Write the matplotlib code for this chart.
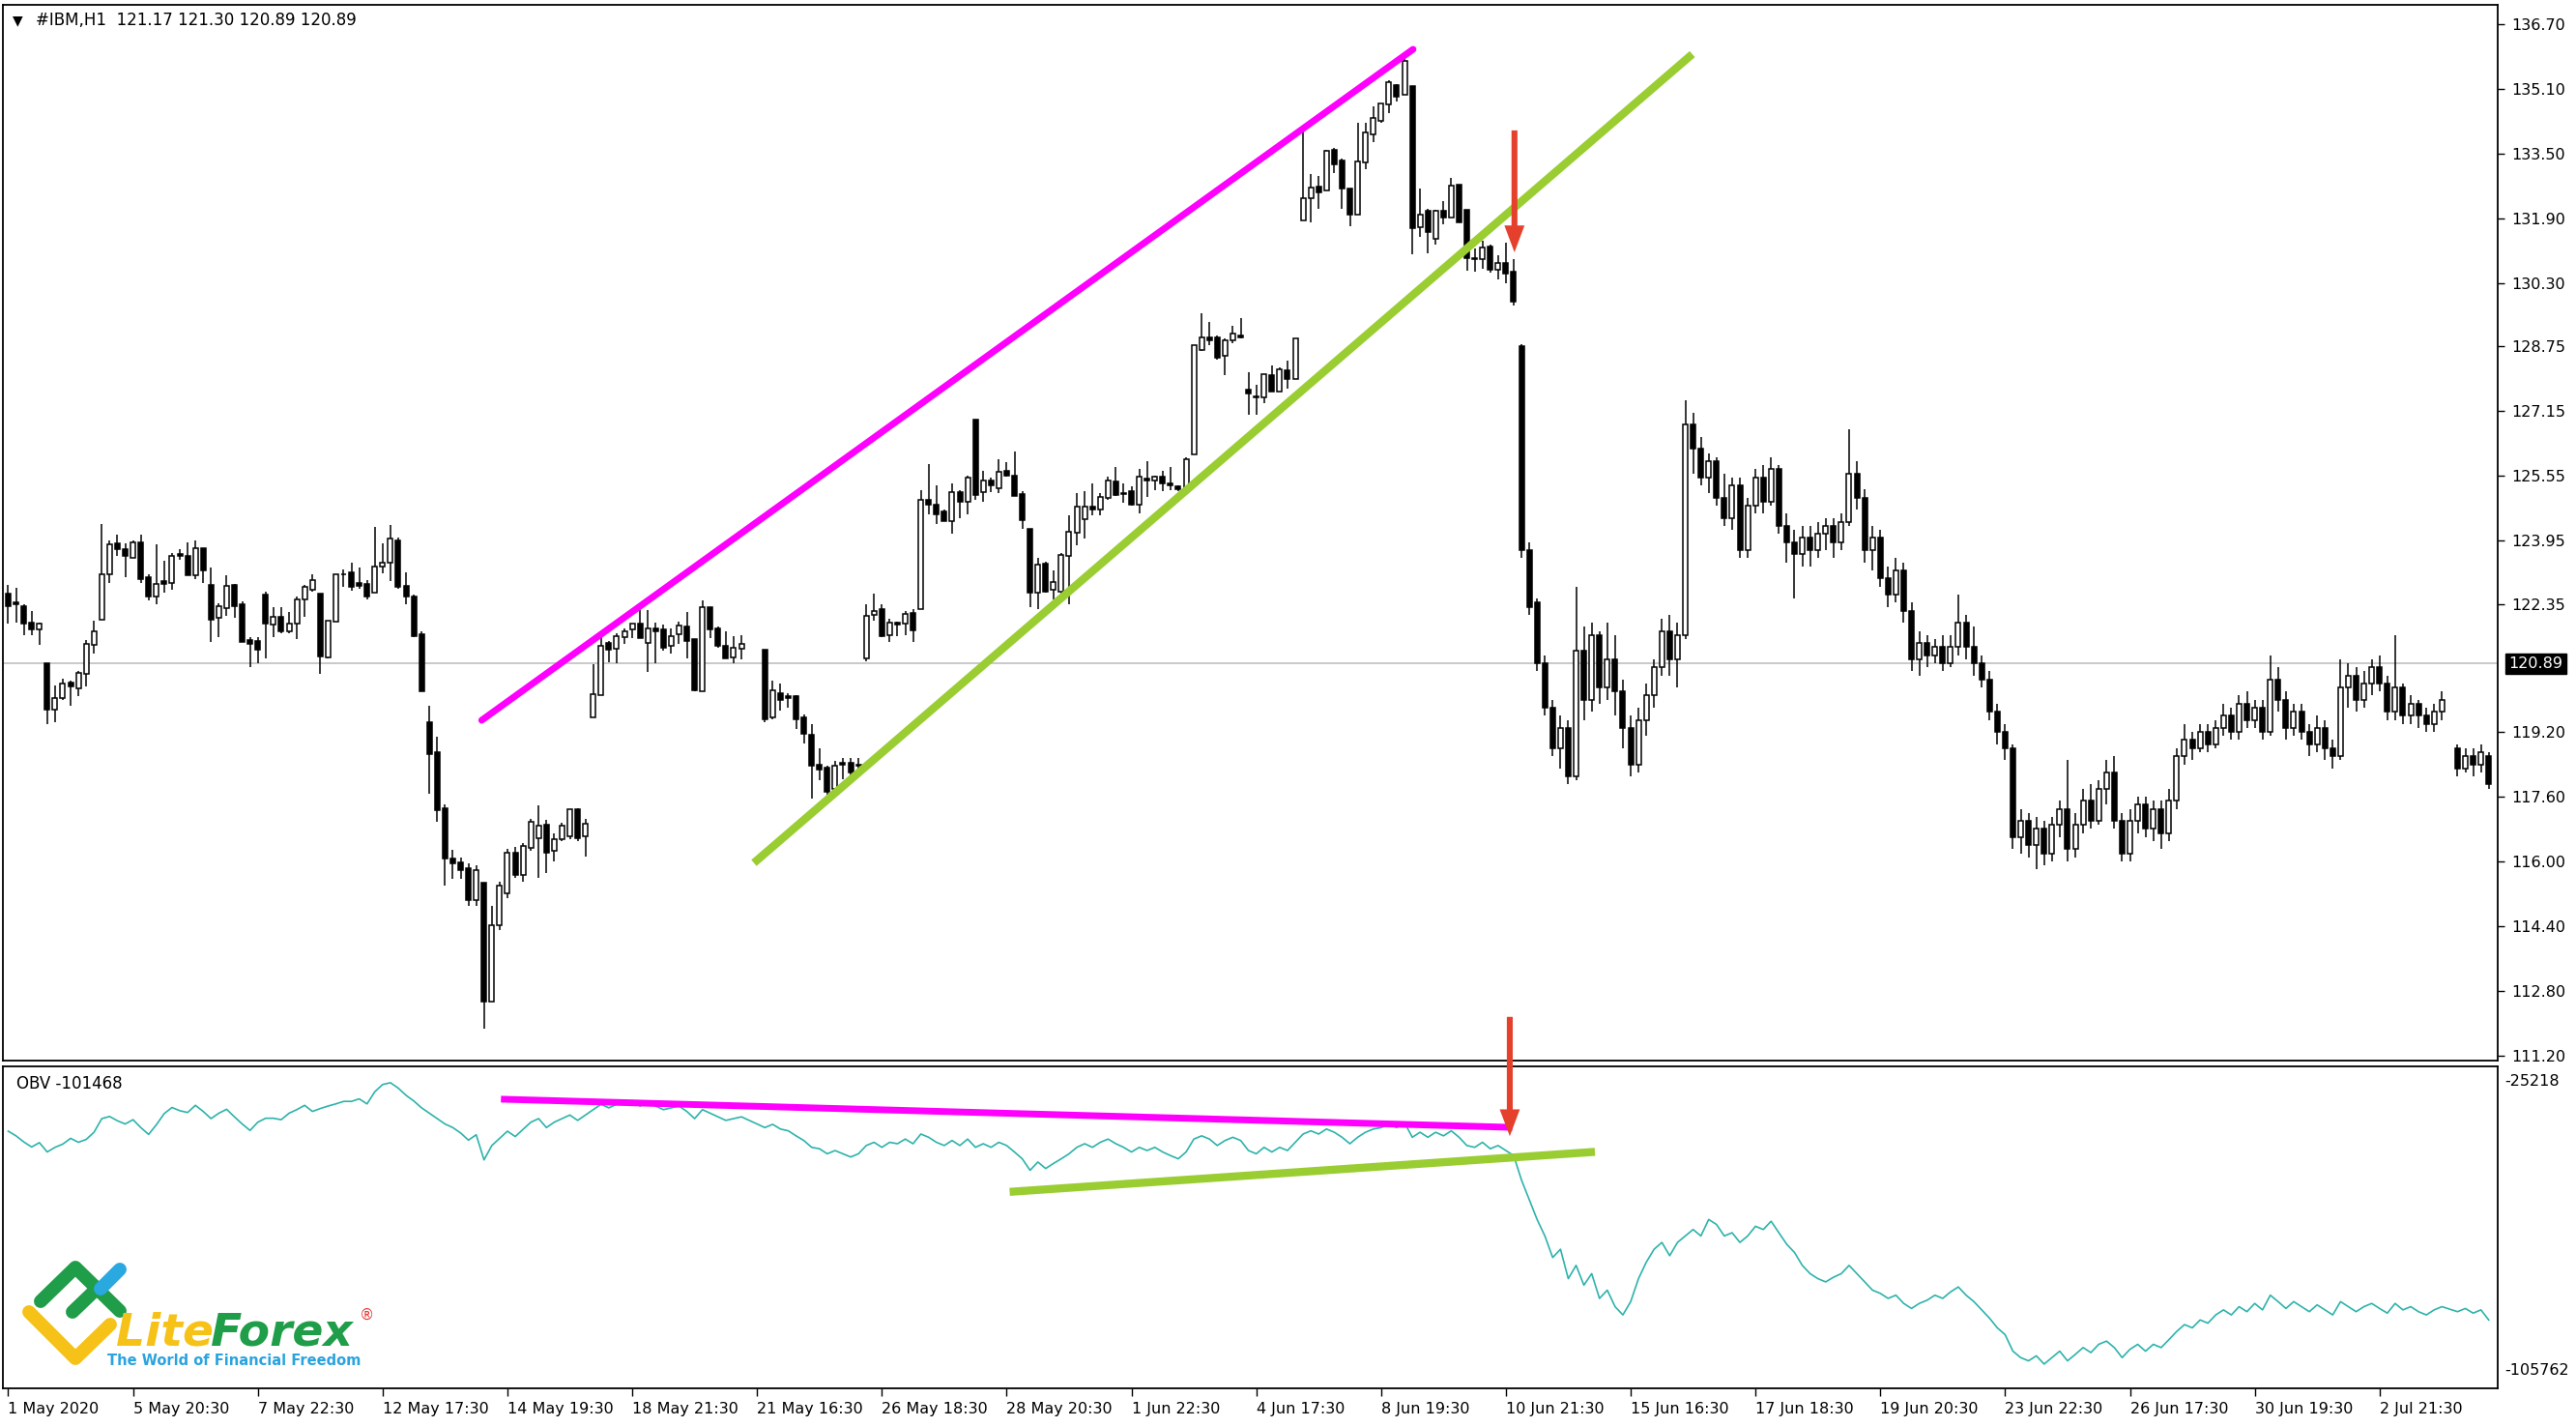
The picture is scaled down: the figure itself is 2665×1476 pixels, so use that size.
import numpy as np
import matplotlib
matplotlib.use('Agg')
import matplotlib.pyplot as plt
from matplotlib.lines import Line2D
from matplotlib.transforms import blended_transform_factory

nan = np.nan

# ---- IBM H1 candles, bars 0..318 ----
opens = [
    122.63, 122.40, 122.31, 121.91, 121.75, 120.89, 119.76, 120.05, 120.42, 120.29,
    120.63, 121.35, 121.97, 123.09, 123.86, 123.73, 123.52, 123.89, 123.03, 122.55,
    122.93, 122.89, 123.60, 123.55, 123.07, 123.74, 122.83, 122.03, 122.27, 122.84,
    122.35, 121.47, 121.45, 122.59, 121.86, 122.04, 121.70, 121.87, 122.48, 122.73,
    122.63, 121.05, 121.94, 123.10, 123.15, 122.88, 122.86, 122.65, 123.29, 123.38,
    123.93, 122.81, 122.54, 121.62, 119.45, 118.70, 117.32, 116.06, 115.98, 115.84,
    115.03, 115.47, 112.54, 114.42, 115.20, 116.22, 115.67, 116.34, 116.58, 116.90,
    116.26, 116.54, 116.62, 117.28, 116.62, 119.57, 120.11, 121.41, 121.25, 121.55,
    121.73, 121.87, 121.41, 121.77, 121.74, 121.33, 121.61, 121.81, 121.49, 120.21,
    122.30, 121.77, 121.34, 121.05, 121.27, nan, nan, 121.23, 119.56, 120.16,
    120.08, 120.09, 119.56, 119.12, 118.38, 118.32, 117.80, 118.43, 118.43, 118.36,
    121.03, 122.09, 122.23, 121.59, 121.91, 121.87, 122.15, 122.23, 124.94, 124.82,
    124.66, 124.42, 125.14, 124.90, 126.93, 125.14, 125.42, 125.23, 125.65, 125.55,
    125.09, 124.23, 122.64, 123.37, 122.72, 122.68, 123.55, 124.13, 124.47, 124.77,
    124.71, 124.99, 125.39, 125.11, 125.15, 124.83, 125.47, 125.43, 125.52, 125.35,
    125.27, 125.25, 126.07, 128.66, 128.97, 128.95, 128.50, 128.90, 129.02, 127.66,
    127.51, 127.47, 128.02, 127.62, 128.14, 127.94, 131.85, 132.40, 132.70, 132.59,
    133.60, 133.34, 132.64, 132.01, 133.28, 133.99, 134.32, 134.72, 135.20, 134.96,
    135.17, 131.69, 132.09, 131.41, 132.09, 131.93, 132.75, 132.13, 130.93, 130.89,
    131.21, 130.63, 130.80, 130.60, 128.75, 123.70, 122.40, 120.90, 119.80, 118.80,
    119.30, 118.10, 121.20, 120.00, 121.60, 120.30, 121.00, 120.20, 119.30, 118.40,
    119.50, 120.10, 120.80, 121.70, 121.00, 121.60, 126.80, 126.20, 125.50, 125.90,
    125.00, 124.50, 125.30, 123.70, 124.80, 125.50, 124.90, 125.70, 124.30, 123.90,
    123.60, 124.00, 123.70, 124.10, 124.30, 123.90, 124.40, 125.60, 125.00, 123.70,
    124.00, 123.00, 122.60, 123.20, 122.20, 121.00, 121.40, 121.10, 121.30, 120.90,
    121.30, 121.90, 121.30, 120.90, 120.50, 119.70, 119.20, 118.80, 116.60, 117.00,
    116.40, 116.80, 116.20, 116.90, 117.30, 116.30, 116.90, 117.50, 117.00, 117.80,
    118.20, 117.00, 116.20, 117.00, 117.40, 116.80, 117.30, 116.70, 117.50, 118.60,
    119.00, 118.80, 119.20, 118.90, 119.30, 119.60, 119.20, 119.90, 119.50, 119.80,
    119.20, 120.50, 120.00, 119.30, 119.70, 119.20, 118.90, 119.30, 118.80, 118.60,
    120.30, 120.60, 120.00, 120.40, 120.80, 120.40, 119.70, 120.30, 119.60, 119.90,
    119.60, 119.40, 119.70, nan, 118.80, 118.30, 118.60, 118.40, 118.60,
]
highs = [
    122.83, 122.77, 122.35, 122.19, 121.91, 120.89, 120.36, 120.52, 120.48, 120.71,
    121.47, 121.95, 124.34, 123.94, 124.09, 123.86, 123.94, 124.09, 123.11, 123.85,
    123.43, 123.62, 123.72, 123.90, 123.93, 123.74, 123.27, 122.39, 123.07, 122.87,
    122.43, 121.55, 121.54, 122.67, 122.29, 122.28, 122.17, 122.54, 122.84, 123.11,
    122.63, 121.96, 123.11, 123.23, 123.40, 123.26, 122.96, 124.27, 123.87, 124.31,
    124.01, 123.15, 122.59, 121.69, 119.84, 119.08, 117.41, 116.29, 116.10, 115.95,
    115.91, 115.47, 114.90, 115.50, 116.30, 116.35, 116.45, 117.05, 117.38, 117.02,
    116.70, 116.95, 117.30, 117.32, 117.06, 120.87, 121.57, 121.45, 121.65, 121.77,
    121.89, 122.28, 122.22, 121.90, 121.85, 121.77, 121.93, 122.17, 121.49, 122.45,
    122.30, 121.82, 121.69, 121.57, 121.59, nan, nan, 121.23, 120.48, 120.40,
    120.16, 120.12, 119.64, 119.40, 118.80, 118.36, 118.48, 118.56, 118.56, 118.56,
    122.35, 122.63, 122.37, 121.99, 121.93, 122.19, 122.23, 125.18, 125.82, 125.30,
    124.70, 125.34, 125.18, 125.54, 126.93, 125.66, 125.50, 125.95, 125.87, 126.15,
    125.17, 124.23, 123.51, 123.42, 123.20, 123.63, 124.55, 125.11, 125.17, 125.35,
    125.11, 125.51, 125.75, 125.35, 125.27, 125.71, 125.89, 125.55, 125.65, 125.75,
    125.30, 125.99, 128.78, 129.57, 129.34, 129.02, 128.94, 129.26, 129.43, 128.10,
    127.78, 128.06, 128.26, 128.22, 128.38, 128.94, 134.12, 133.00, 132.96, 133.60,
    133.64, 133.39, 132.64, 134.26, 134.26, 134.68, 134.76, 135.32, 135.24, 135.87,
    135.17, 132.64, 132.14, 132.13, 132.33, 132.90, 132.75, 132.13, 131.17, 131.35,
    131.25, 131.00, 131.30, 130.90, 128.80, 123.90, 122.50, 121.10, 120.00, 119.60,
    119.50, 122.80, 121.80, 121.90, 121.70, 121.90, 121.60, 120.50, 119.60, 119.80,
    120.40, 121.00, 122.00, 122.10, 121.90, 127.40, 127.10, 126.50, 126.10, 126.00,
    125.60, 125.50, 125.50, 125.00, 125.70, 125.80, 126.00, 125.80, 124.60, 124.20,
    124.30, 124.30, 124.40, 124.50, 124.50, 124.60, 126.70, 125.90, 125.20, 124.30,
    124.20, 123.30, 123.50, 123.40, 122.40, 121.70, 121.60, 121.50, 121.60, 121.60,
    122.60, 122.10, 121.80, 121.10, 120.70, 119.90, 119.40, 118.90, 117.30, 117.20,
    117.10, 117.00, 117.10, 117.50, 118.50, 117.20, 117.80, 117.90, 118.00, 118.50,
    118.60, 117.20, 117.30, 117.60, 117.60, 117.50, 117.50, 117.80, 118.80, 119.40,
    119.20, 119.40, 119.40, 119.50, 119.90, 119.80, 120.10, 120.20, 120.00, 120.00,
    121.10, 120.80, 120.20, 119.90, 119.90, 119.40, 119.60, 119.50, 119.00, 121.00,
    120.90, 120.80, 120.70, 121.00, 121.10, 120.60, 121.60, 120.40, 120.10, 120.00,
    119.80, 119.90, 120.20, nan, 118.90, 118.80, 118.80, 118.90, 118.70,
]
lows = [
    121.87, 121.91, 121.59, 121.59, 121.35, 119.40, 119.44, 120.00, 119.84, 120.08,
    120.32, 121.15, 121.97, 122.89, 123.56, 123.03, 123.52, 122.89, 122.45, 122.35,
    122.65, 122.71, 123.47, 123.08, 122.99, 122.89, 121.43, 121.55, 122.07, 122.03,
    121.43, 120.81, 120.91, 121.03, 121.54, 121.64, 121.64, 121.49, 122.04, 122.67,
    120.63, 121.02, 121.94, 122.80, 122.70, 122.75, 122.49, 122.65, 123.13, 122.94,
    122.75, 122.36, 121.54, 120.21, 117.66, 116.99, 115.41, 115.56, 115.56, 114.89,
    114.89, 111.86, 112.54, 114.30, 115.10, 115.60, 115.50, 116.25, 115.59, 115.71,
    115.99, 116.50, 116.55, 116.50, 116.11, 119.57, 120.11, 120.93, 120.91, 121.37,
    121.53, 121.53, 120.69, 120.91, 121.21, 121.13, 121.37, 121.03, 120.20, 120.21,
    121.53, 121.29, 121.03, 120.91, 120.99, nan, nan, 119.44, 119.52, 119.72,
    119.80, 119.28, 118.92, 117.56, 118.00, 117.64, 117.72, 118.04, 118.12, 118.20,
    120.95, 121.95, 121.54, 121.43, 121.57, 121.59, 121.43, 122.23, 124.58, 124.34,
    124.41, 124.10, 124.50, 124.58, 124.94, 124.90, 125.14, 125.12, 125.51, 125.04,
    124.22, 122.28, 122.24, 122.64, 122.48, 122.56, 122.36, 123.83, 123.98, 124.55,
    124.55, 124.95, 125.03, 124.87, 124.81, 124.61, 125.01, 125.19, 125.15, 125.19,
    125.17, 125.25, 126.07, 128.62, 128.78, 128.42, 128.04, 128.82, 128.94, 127.06,
    127.06, 127.34, 127.62, 127.62, 127.70, 127.94, 131.85, 131.81, 132.14, 132.59,
    133.02, 132.14, 131.71, 132.01, 133.12, 133.80, 134.26, 134.52, 134.80, 134.96,
    131.01, 131.45, 131.05, 131.25, 131.77, 131.93, 131.81, 130.61, 130.60, 130.65,
    130.57, 130.40, 130.30, 129.75, 123.50, 122.10, 120.70, 119.60, 118.60, 118.30,
    117.90, 118.00, 119.50, 119.70, 119.90, 120.00, 119.60, 118.80, 118.10, 118.20,
    119.10, 119.80, 120.60, 120.60, 120.30, 121.50, 125.60, 125.30, 125.10, 124.80,
    124.30, 124.20, 123.50, 123.50, 124.60, 124.60, 124.80, 124.10, 123.40, 122.50,
    123.30, 123.30, 123.50, 123.70, 123.50, 123.70, 124.30, 124.70, 123.40, 123.20,
    122.80, 122.30, 122.40, 121.90, 120.70, 120.60, 120.80, 120.90, 120.70, 120.80,
    121.10, 121.00, 120.60, 120.30, 119.50, 118.90, 118.50, 116.30, 116.20, 116.10,
    115.80, 115.90, 116.00, 116.60, 116.00, 116.10, 116.70, 116.80, 116.90, 117.40,
    116.80, 116.00, 116.00, 116.70, 116.60, 116.50, 116.30, 116.50, 117.30, 118.40,
    118.50, 118.70, 118.70, 118.80, 119.10, 119.00, 119.00, 119.30, 119.30, 119.00,
    119.10, 119.70, 119.00, 119.10, 119.00, 118.60, 118.70, 118.50, 118.30, 118.50,
    119.80, 119.70, 119.80, 120.10, 120.20, 119.50, 119.50, 119.40, 119.40, 119.30,
    119.20, 119.20, 119.50, nan, 118.10, 118.20, 118.10, 118.20, 117.80,
]
closes = [
    122.31, 122.36, 121.89, 121.75, 121.87, 119.76, 120.05, 120.40, 120.32, 120.66,
    121.38, 121.70, 123.11, 123.85, 123.72, 123.55, 123.90, 122.99, 122.55, 122.87,
    122.87, 123.56, 123.55, 123.08, 123.74, 123.19, 121.97, 122.31, 122.81, 122.31,
    121.43, 121.39, 121.24, 121.89, 122.04, 121.69, 121.87, 122.48, 122.78, 122.96,
    121.07, 121.96, 123.09, 123.09, 122.80, 122.81, 122.54, 123.30, 123.38, 123.99,
    122.78, 122.56, 121.58, 120.21, 118.66, 117.27, 116.08, 115.95, 115.79, 115.03,
    115.79, 112.54, 114.42, 115.41, 116.22, 115.67, 116.38, 116.98, 116.88, 116.22,
    116.54, 116.88, 117.28, 116.56, 116.93, 120.13, 121.33, 121.23, 121.57, 121.69,
    121.87, 121.53, 121.77, 121.69, 121.29, 121.58, 121.83, 121.45, 120.23, 122.30,
    121.73, 121.33, 121.03, 121.29, 121.39, nan, nan, 119.52, 120.24, 120.00,
    120.04, 119.52, 119.16, 118.36, 118.28, 117.72, 118.36, 118.38, 118.20, 118.40,
    122.07, 122.19, 121.57, 121.91, 121.85, 122.13, 121.71, 124.94, 124.82, 124.58,
    124.41, 125.14, 124.90, 125.50, 125.06, 125.42, 125.30, 125.63, 125.55, 125.04,
    124.43, 122.64, 123.35, 122.68, 122.92, 123.59, 124.15, 124.77, 124.77, 124.71,
    125.01, 125.41, 125.07, 125.08, 124.83, 125.51, 125.43, 125.52, 125.35, 125.31,
    125.20, 125.95, 128.78, 128.95, 128.90, 128.46, 128.90, 129.06, 128.95, 127.58,
    127.47, 128.06, 127.62, 128.18, 127.94, 128.94, 132.40, 132.68, 132.54, 133.58,
    133.24, 132.64, 132.01, 133.32, 134.03, 134.40, 134.76, 135.28, 134.92, 135.80,
    131.66, 132.01, 131.57, 132.09, 131.93, 132.72, 131.81, 130.93, 130.89, 131.19,
    130.63, 130.80, 130.55, 129.85, 123.70, 122.30, 120.90, 119.80, 118.80, 119.30,
    118.10, 121.20, 120.00, 121.60, 120.30, 121.00, 120.20, 119.30, 118.40, 119.50,
    120.10, 120.80, 121.70, 121.00, 121.60, 126.80, 126.20, 125.50, 125.90, 125.00,
    124.50, 125.30, 123.70, 124.80, 125.50, 124.90, 125.70, 124.30, 123.90, 123.60,
    124.00, 123.70, 124.10, 124.30, 123.90, 124.40, 125.60, 125.00, 123.70, 124.00,
    123.00, 122.60, 123.20, 122.20, 121.00, 121.40, 121.10, 121.30, 120.90, 121.30,
    121.90, 121.30, 120.90, 120.50, 119.70, 119.20, 118.80, 116.60, 117.00, 116.40,
    116.80, 116.20, 116.90, 117.30, 116.30, 116.90, 117.50, 117.00, 117.80, 118.20,
    117.00, 116.20, 117.00, 117.40, 116.80, 117.30, 116.70, 117.50, 118.60, 119.00,
    118.80, 119.20, 118.90, 119.30, 119.60, 119.20, 119.90, 119.50, 119.80, 119.20,
    120.50, 120.00, 119.30, 119.70, 119.20, 118.90, 119.30, 118.80, 118.60, 120.30,
    120.60, 120.00, 120.40, 120.80, 120.40, 119.70, 120.30, 119.60, 119.90, 119.60,
    119.40, 119.70, 120.00, nan, 118.30, 118.60, 118.40, 118.70, 117.90,
]

# ---- OBV, one value per bar ----
obv = [
    -39500, -40800, -42500, -43900, -42700, -45300, -44000, -43100, -41500, -42600,
    -41800, -39800, -36000, -35400, -36600, -37500, -36300, -38500, -40400, -37700,
    -34600, -32900, -33800, -34300, -32300, -34000, -36000, -34500, -33400, -35500,
    -37500, -39300, -37000, -35900, -35900, -36300, -34500, -33500, -32300, -34000,
    -33200, -32500, -31900, -31200, -31200, -30500, -31900, -28500, -26500, -26000,
    -27500, -29500, -31100, -33000, -34500, -36000, -37500, -38500, -40000, -42000,
    -40500, -47500, -43500, -41500, -39500, -41000, -39000, -37000, -36000, -38500,
    -37000, -36000, -35000, -36500, -35000, -33500, -32000, -33000, -32000, -31500,
    -31000, -32500, -31500, -32500, -33500, -33000, -32500, -34000, -36000, -33500,
    -34500, -35500, -36500, -36000, -35500, nan, nan, -38500, -37600, -38900,
    -39400, -40800, -42100, -44000, -44400, -45800, -44900, -45800, -46700, -45800,
    -43500, -42600, -44000, -42600, -43000, -41700, -43000, -40300, -41200, -42600,
    -43500, -42100, -43500, -41700, -44000, -43000, -44000, -42600, -43500, -45300,
    -47200, -50400, -48100, -49900, -48500, -47200, -45800, -44000, -43000, -44000,
    -42600, -41700, -43000, -44000, -45300, -44000, -44900, -44000, -45300, -46300,
    -47200, -45300, -41700, -40800, -41700, -43500, -42100, -41200, -42100, -44900,
    -45800, -44000, -45300, -44000, -44900, -42600, -40300, -39400, -40300, -38900,
    -39800, -41200, -43000, -41200, -39800, -38900, -38500, -37600, -38500, -37100,
    -41200, -39800, -41200, -39800, -40800, -39400, -41200, -43500, -44000, -42600,
    -44400, -43500, -44900, -46300, -53100, -58600, -64100, -68700, -74700, -72400,
    -80600, -76900, -82400, -79200, -86100, -83800, -88400, -90700, -87000, -80600,
    -76000, -72400, -70500, -74200, -70500, -68700, -66900, -68700, -64100, -65500,
    -68700, -67800, -70500, -68700, -66000, -66900, -64600, -67800, -71000, -73300,
    -76900, -79200, -80600, -81500, -80200, -79200, -76900, -79200, -81500, -83800,
    -84700, -86100, -85200, -87500, -88900, -87500, -86600, -85200, -86100, -84300,
    -82900, -85200, -87000, -89300, -91600, -94300, -96200, -100800, -102600, -103500,
    -102100, -104400, -102600, -100800, -103500, -101700, -99800, -101200, -98900, -98000,
    -99800, -102600, -100300, -98900, -100800, -98900, -99800, -97600, -95300, -93400,
    -94300, -92100, -93000, -90700, -89300, -90700, -88400, -89800, -87500, -89300,
    -85200, -87000, -88900, -87000, -88400, -89800, -87900, -89300, -90700, -87000,
    -88400, -89800, -88400, -87500, -88900, -90200, -87500, -89300, -88400, -89800,
    -90700, -89300, -88400, nan, -89800, -88900, -90200, -89300, -92100,
]

price_ticks = [136.70, 135.10, 133.50, 131.90, 130.30, 128.75, 127.15, 125.55,
               123.95, 122.35, 119.20, 117.60, 116.00, 114.40, 112.80, 111.20]
bid = 120.89
time_labels = ['1 May 2020', '5 May 20:30', '7 May 22:30', '12 May 17:30',
               '14 May 19:30', '18 May 21:30', '21 May 16:30', '26 May 18:30',
               '28 May 20:30', '1 Jun 22:30', '4 Jun 17:30', '8 Jun 19:30',
               '10 Jun 21:30', '15 Jun 16:30', '17 Jun 18:30', '19 Jun 20:30',
               '23 Jun 22:30', '26 Jun 17:30', '30 Jun 19:30', '2 Jul 21:30']
obv_ticks = [-25218, -105762]

# hand-drawn trend lines / arrows (bar index, value)
pink_px = [60.7, 180.1]
pink_py = [119.49, 136.09]
green_px = [95.6, 215.9]
green_py = [115.96, 135.97]
arrow_px = [193.1, 134.15, 131.0]
pink_ox = [63.6, 192.4]
pink_oy = [-30606, -38418]
green_ox = [128.9, 202.9]
green_oy = [-56331, -45341]
arrow_ox = [192.5, -6900, -41650]

plt.rcParams['font.family'] = ['DejaVu Sans']

W, H = 2665, 1476
fig = plt.figure(figsize=(W / 100, H / 100), dpi=100)
fig.patch.set_facecolor('white')

ax = fig.add_axes([3 / W, 1 - 1097 / H, 2581 / W, 1092 / H])
ax2 = fig.add_axes([3 / W, 1 - 1436 / H, 2581 / W, 333 / H])

x = np.arange(len(opens))
o = np.array(opens)
h = np.array(highs)
l = np.array(lows)
c = np.array(closes)
ok = ~np.isnan(o)
up = ok & (c >= o)
dn = ok & (c < o)
lo = np.where(ok, np.minimum(o, c), 0)
ht = np.where(ok, np.maximum(np.abs(c - o), 0.02), 0)

ax.axhline(bid, color='#c0c0c0', lw=1.2, zorder=1)
ax.vlines(x[ok], l[ok], h[ok], color='black', lw=1.1, zorder=2)
ax.bar(x[up], ht[up], bottom=lo[up], width=0.62, color='white',
       edgecolor='black', lw=1.1, zorder=3)
ax.bar(x[dn], ht[dn], bottom=lo[dn], width=0.62, color='black',
       edgecolor='black', lw=1.1, zorder=3)

ax.plot(pink_px, pink_py, color='#ff00ff', lw=5, solid_capstyle='round', zorder=4)
ax.plot(green_px, green_py, color='#9acd32', lw=6, solid_capstyle='butt', zorder=4)
red = '#e5402c'
ax.annotate('', xy=(arrow_px[0], arrow_px[2]), xytext=(arrow_px[0], arrow_px[1]),
            arrowprops=dict(arrowstyle='simple,head_length=1.0,head_width=0.75,tail_width=0.22',
                            color=red, lw=0, mutation_scale=20), zorder=6)

xl = (-0.68, 319.15)
ax.set_xlim(*xl)
ax.set_ylim(111.07, 137.19)
ax.yaxis.tick_right()
ax.set_yticks(price_ticks)
ax.set_yticklabels(['%.2f' % v for v in price_ticks])
ax.tick_params(axis='y', direction='out', length=5, width=1, pad=5, labelsize=11.5)
ax.set_xticks([])
for s in ax.spines.values():
    s.set_linewidth(1.3)
tr = blended_transform_factory(ax.transAxes, ax.transData)
ax.text(1.0045, bid, '120.89', transform=tr, color='white', fontsize=11.5,
        va='center', ha='left',
        bbox=dict(facecolor='black', edgecolor='black', boxstyle='square,pad=0.2'))

# header
fig.text(18 / W, 1 - 21 / H, '\u25bc', fontsize=10, ha='center', va='center')
fig.text(37 / W, 1 - 21 / H, '#IBM,H1  121.17 121.30 120.89 120.89', fontsize=12,
         ha='left', va='center')

# OBV panel
ob = np.array(obv, dtype=float)
okb = ~np.isnan(ob)
ax2.plot(x[okb], ob[okb], color='#2db3ab', lw=1.2, zorder=2)
ax2.plot(pink_ox, pink_oy, color='#ff00ff', lw=5, zorder=3)
ax2.plot(green_ox, green_oy, color='#9acd32', lw=6, zorder=3)
ax2.annotate('', xy=(arrow_ox[0], arrow_ox[2]), xytext=(arrow_ox[0], arrow_ox[1]),
             arrowprops=dict(arrowstyle='simple,head_length=1.0,head_width=0.75,tail_width=0.22',
                             color=red, lw=0, mutation_scale=20),
             annotation_clip=False, zorder=6)
ax2.set_xlim(*xl)
ax2.set_ylim(-111157, -21446)
ax2.yaxis.tick_right()
ax2.set_yticks(obv_ticks)
ax2.set_yticklabels([str(v) for v in obv_ticks])
ax2.tick_params(axis='y', length=0, pad=5, labelsize=11.5)
ax2.set_xticks(range(0, 16 * len(time_labels), 16))
ax2.set_xticklabels(time_labels, ha='left')
ax2.tick_params(axis='x', direction='out', length=6, width=1, pad=4, labelsize=11.5)
for s in ax2.spines.values():
    s.set_linewidth(1.3)
ax2.text(14 / 2581, 1 - 18 / 333, 'OBV -101468', transform=ax2.transAxes,
         fontsize=12, ha='left', va='center')


# LiteForex logo
def fp(px, py):
    return px / W, 1 - py / H


def stroke(pts, col, lw):
    xs = [fp(px, py)[0] for px, py in pts]
    ys = [fp(px, py)[1] for px, py in pts]
    fig.add_artist(Line2D(xs, ys, transform=fig.transFigure, color=col, lw=lw,
                          solid_capstyle='round', solid_joinstyle='round', zorder=10))


stroke([(30, 1357), (78, 1405), (114, 1370)], '#f6c218', 10)
stroke([(42, 1346), (78, 1311), (124, 1356)], '#1f9d48', 10)
stroke([(75, 1357), (100, 1333)], '#1f9d48', 10)
stroke([(104, 1333), (124, 1313)], '#2aa8e0', 10)
fig.text(*fp(120, 1391), 'Lite', color='#f6c218', fontsize=34, fontweight='bold',
         fontstyle='italic', ha='left', va='baseline', zorder=10)
fig.text(*fp(218, 1391), 'Forex', color='#1f9d48', fontsize=34, fontweight='bold',
         fontstyle='italic', ha='left', va='baseline', zorder=10)
fig.text(*fp(380, 1360), '\u00ae', color='#e53935', fontsize=11, ha='center',
         va='center', zorder=10)
fig.text(*fp(111, 1407), 'The World of Financial Freedom', color='#2aa3df',
         fontsize=10.5, fontweight='bold', ha='left', va='center', zorder=10)

fig.savefig('out.png', dpi=100, facecolor='white')
